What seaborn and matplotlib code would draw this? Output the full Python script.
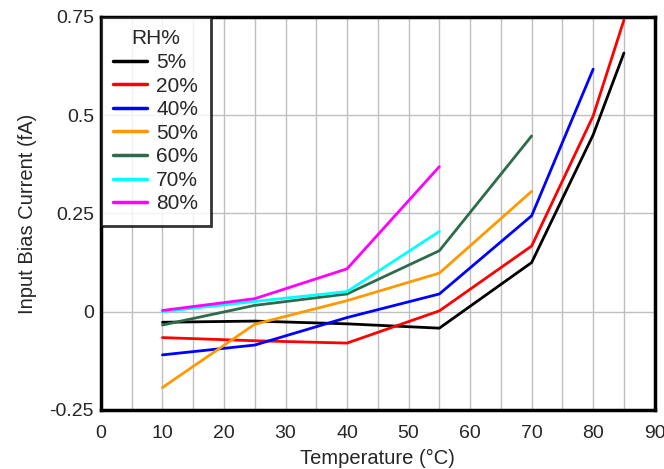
import matplotlib
matplotlib.use("Agg")
import matplotlib.pyplot as plt
import seaborn as sns
import pandas as pd
from matplotlib.ticker import MultipleLocator

sns.set_theme(style="white")
plt.rcParams['font.family'] = ['Liberation Sans', 'DejaVu Sans']

rh_labels = ["5%", "20%", "40%", "50%", "60%", "70%", "80%"]
temp_5 = [10, 25, 40, 55, 70, 80, 85]
bias_5 = [-0.027, -0.024, -0.031, -0.042, 0.125, 0.450, 0.658]
temp_20 = [10, 25, 40, 55, 70, 80, 85]
bias_20 = [-0.066, -0.074, -0.080, 0.002, 0.167, 0.498, 0.742]
temp_40 = [10, 25, 40, 55, 70, 80]
bias_40 = [-0.110, -0.085, -0.015, 0.045, 0.244, 0.617]
temp_50 = [10, 25, 40, 55, 70]
bias_50 = [-0.193, -0.032, 0.028, 0.098, 0.306]
temp_60 = [10, 25, 40, 55, 70]
bias_60 = [-0.034, 0.016, 0.045, 0.155, 0.447]
temp_70 = [10, 25, 40, 55]
bias_70 = [0.0, 0.026, 0.051, 0.204]
temp_80 = [10, 25, 40, 55]
bias_80 = [0.003, 0.033, 0.109, 0.369]

colors = ["#000000", "#ff0000", "#0000ff", "#ff9900", "#2e6b4a", "#00ffff", "#ff00ff"]

temps = [temp_5, temp_20, temp_40, temp_50, temp_60, temp_70, temp_80]
biases = [bias_5, bias_20, bias_40, bias_50, bias_60, bias_70, bias_80]
rows = []
for lab, t, b in zip(rh_labels, temps, biases):
    for ti, bi in zip(t, b):
        rows.append({"Temperature": ti, "Bias": bi, "RH%": lab})
df = pd.DataFrame(rows)

fig = plt.figure(figsize=(6.64, 4.69), dpi=100)
ax = fig.add_axes([0.152, 0.126, 0.834, 0.838])
sns.lineplot(data=df, x="Temperature", y="Bias", hue="RH%", hue_order=rh_labels,
             palette=dict(zip(rh_labels, colors)), linewidth=2.0, ax=ax,
             estimator=None, sort=False)

ax.set_xlim(0, 90)
ax.set_ylim(-0.25, 0.75)
ax.set_xticks(range(0, 91, 10))
ax.xaxis.set_minor_locator(MultipleLocator(5))
ax.set_yticks([-0.25, 0, 0.25, 0.5, 0.75])
ax.set_yticklabels(["-0.25", "0", "0.25", "0.5", "0.75"])
ax.grid(True, which="both", axis="x", color="#bfbfbf", linewidth=1.0)
ax.grid(True, which="major", axis="y", color="#bfbfbf", linewidth=1.0)
ax.set_axisbelow(True)
ax.tick_params(axis="y", which="both", length=0, labelsize=14, pad=5)
ax.tick_params(axis="x", which="both", length=0, labelsize=14, pad=11)
for s in ax.spines.values():
    s.set_color("black")
    s.set_linewidth(2.5)
ax.set_xlabel("Temperature (°C)", fontsize=14.5, labelpad=5)
ax.set_ylabel("Input Bias Current (fA)", fontsize=14.5, labelpad=9)

leg = ax.legend(title="RH%", loc="upper left", fontsize=15, title_fontsize=15,
                frameon=True, fancybox=False, borderaxespad=0, handlelength=1.6,
                handletextpad=0.45, labelspacing=0.22, borderpad=0.6)
leg.get_frame().set_edgecolor("black")
leg.get_frame().set_linewidth(2.0)
for l in leg.get_lines():
    l.set_linewidth(2.5)

fig.savefig("out.png", dpi=100)
